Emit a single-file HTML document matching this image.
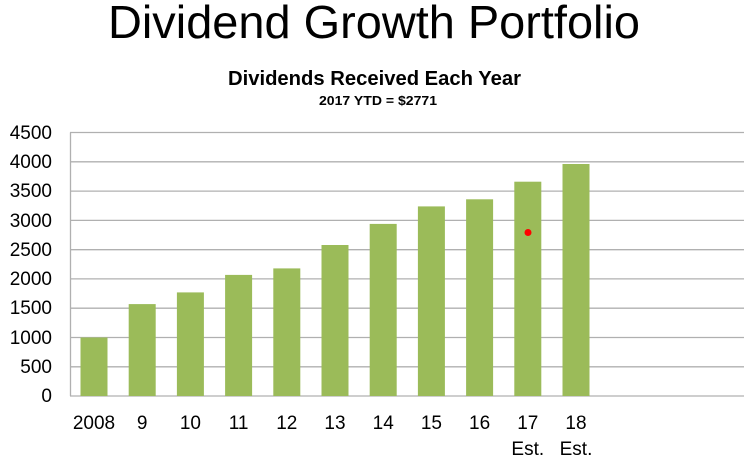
<!DOCTYPE html>
<html><head><style>
body{margin:0;background:#fff;}
svg{display:block;font-family:"Liberation Sans",sans-serif;}
</style></head><body>
<svg width="749" height="460" viewBox="0 0 749 460">
<text x="108" y="38" textLength="532" lengthAdjust="spacingAndGlyphs" font-size="46" fill="#000">Dividend Growth Portfolio</text>
<text x="228" y="85" textLength="293" lengthAdjust="spacingAndGlyphs" font-size="20" font-weight="bold" fill="#000">Dividends Received Each Year</text>
<text x="319" y="105" textLength="118" lengthAdjust="spacingAndGlyphs" font-size="13" font-weight="bold" fill="#000">2017 YTD = $2771</text>
<g stroke="#b0b0b0" stroke-width="1.3">
<line x1="70" x2="744" y1="132.5" y2="132.5"/>
<line x1="70" x2="744" y1="161.8" y2="161.8"/>
<line x1="70" x2="744" y1="191.1" y2="191.1"/>
<line x1="70" x2="744" y1="220.4" y2="220.4"/>
<line x1="70" x2="744" y1="249.7" y2="249.7"/>
<line x1="70" x2="744" y1="278.9" y2="278.9"/>
<line x1="70" x2="744" y1="308.2" y2="308.2"/>
<line x1="70" x2="744" y1="337.5" y2="337.5"/>
<line x1="70" x2="744" y1="366.8" y2="366.8"/>
<line x1="70" x2="744" y1="396" y2="396"/>
<line x1="70.5" x2="70.5" y1="132.5" y2="396"/>
</g>
<g font-size="19" fill="#000" text-anchor="end">
<text x="52" y="139">4500</text><text x="52" y="168">4000</text><text x="52" y="197">3500</text>
<text x="52" y="227">3000</text><text x="52" y="256">2500</text><text x="52" y="285">2000</text>
<text x="52" y="314">1500</text><text x="52" y="344">1000</text><text x="52" y="373">500</text>
<text x="52" y="402">0</text>
</g>
<g fill="#9bbb59">
<rect x="80.5" y="337.5" width="27" height="58.5"/>
<rect x="128.7" y="304.1" width="27" height="91.9"/>
<rect x="176.9" y="292.4" width="27" height="103.6"/>
<rect x="225.1" y="274.9" width="27" height="121.1"/>
<rect x="273.3" y="268.4" width="27" height="127.6"/>
<rect x="321.5" y="245" width="27" height="151"/>
<rect x="369.7" y="223.9" width="27" height="172.1"/>
<rect x="417.9" y="206.4" width="27" height="189.6"/>
<rect x="466.1" y="199.3" width="27" height="196.7"/>
<rect x="514.3" y="181.7" width="27" height="214.3"/>
<rect x="562.5" y="164" width="27" height="232"/>
</g>
<circle cx="528" cy="232.5" r="3.5" fill="#ff0000"/>
<g font-size="19" fill="#000" text-anchor="middle">
<text x="94" y="429">2008</text><text x="142.2" y="429">9</text><text x="190.4" y="429">10</text>
<text x="238.6" y="429">11</text><text x="286.8" y="429">12</text><text x="335" y="429">13</text>
<text x="383.2" y="429">14</text><text x="431.4" y="429">15</text><text x="479.6" y="429">16</text>
<text x="527.8" y="429">17</text><text x="576" y="429">18</text>
<text x="527.8" y="455">Est.</text><text x="576" y="455">Est.</text>
</g>
</svg>
</body></html>
